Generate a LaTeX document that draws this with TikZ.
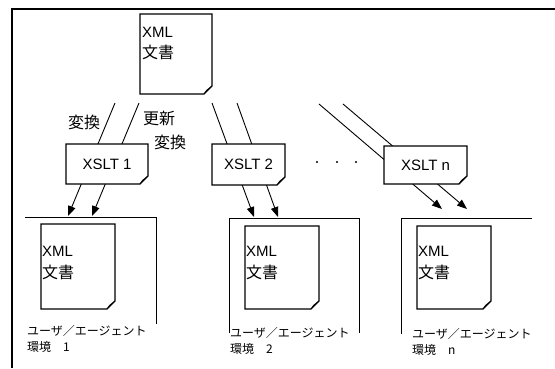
\documentclass[tikz,border=0pt]{standalone}
\usepackage{fontspec}
\setmainfont{Liberation Sans}
\newfontfamily\jp{Noto Sans CJK JP}
\usetikzlibrary{arrows.meta}
\pgfdeclarelayer{lines}
\pgfdeclarelayer{shapes}
\pgfsetlayers{lines,shapes,main}
\tikzset{
  box/.style={draw=none, inner sep=0pt, outer sep=0pt},
  outline/.style={line width=1.1pt, line join=miter, fill=white},
  conn/.style={line width=0.9pt, -{Triangle[length=10pt,width=7.5pt]}},
  envline/.style={line width=0.9pt},
  frameline/.style={line width=2pt},
  lat/.style={font=\fontsize{15}{15}\selectfont, inner sep=0pt},
  jpl/.style={font=\jp\fontsize{16}{16}\selectfont, inner sep=0pt, anchor=west},
  envlbl/.style={font=\jp\fontsize{12}{12}\selectfont, inner sep=0pt, anchor=west},
}
\newcommand\dogear[2]{%
  \begin{pgfonlayer}{shapes}
  \filldraw[outline] (#1.north west) -- (#1.north east) -- ([yshift=#2]#1.south east)
     -- ([xshift=-#2]#1.south east) -- (#1.south west) -- cycle;
  \draw[line width=0.7pt] ([yshift=#2]#1.south east) -- ([xshift=-0.7*#2, yshift=0.45*#2]#1.south east)
     -- ([xshift=-#2]#1.south east);
  \end{pgfonlayer}}
\begin{document}
\begin{tikzpicture}[x=1pt,y=-1pt]
\useasboundingbox (0,0) rectangle (555,368);
% frame
\coordinate (fa) at (12,368);
\coordinate (fb) at (12,9);
\coordinate (fc) at (555,9);
\draw[frameline] (fa) -- (fb) -- (fc);

% source document
\node[box, minimum width=72pt, minimum height=80pt] (d0) at (176,54) {};
\dogear{d0}{8pt}
\node[lat, anchor=west] (d0a) at (142,32) {XML};
\node[jpl] (d0b) at (142,52) {文書};

% XSLT boxes
\node[box, lat, minimum width=82pt, minimum height=40pt] (x1) at (107,164) {XSLT 1};
\dogear{x1}{8pt}
\node[box, lat, minimum width=73pt, minimum height=41pt] (x2) at (248.5,164.5) {XSLT 2};
\dogear{x2}{8pt}
\node[box, lat, minimum width=83pt, minimum height=38pt] (xn) at (425.5,165) {XSLT n};
\dogear{xn}{8pt}

% labels
\node[jpl] (l1) at (68,122) {変換};
\node[jpl] (l2) at (143,118) {更新};
\node[jpl] (l3) at (154,142) {変換};

% dots
\fill (317,162) circle (1.2pt) coordinate (p1);
\fill (337,162) circle (1.2pt) coordinate (p2);
\fill (356,162) circle (1.2pt) coordinate (p3);

% connectors
\coordinate (s1a) at (115,103); \coordinate (e1a) at (68,216);
\coordinate (s1b) at (139,103); \coordinate (e1b) at (92,216);
\coordinate (s2a) at (212,103); \coordinate (e2a) at (254,217);
\coordinate (s2b) at (237,103); \coordinate (e2b) at (278,217);
\coordinate (sna) at (319,104); \coordinate (ena) at (442,209);
\coordinate (snb) at (343,104); \coordinate (enb) at (467,209);
\begin{pgfonlayer}{lines}
\draw[conn] (s1a) -- (e1a);
\draw[conn] (s1b) -- (e1b);
\draw[conn] (s2a) -- (e2a);
\draw[conn] (s2b) -- (e2b);
\draw[conn] (sna) -- (ena);
\draw[conn] (snb) -- (enb);
\end{pgfonlayer}

% environment 1
\coordinate (a1) at (25,217); \coordinate (b1) at (156,217); \coordinate (c1) at (156,324);
\draw[envline] (a1) -- (b1) -- (c1);
\node[box, minimum width=74pt, minimum height=85pt] (d1) at (78,266.5) {};
\dogear{d1}{8pt}
\node[lat, anchor=west] (d1a) at (42,251) {XML};
\node[jpl] (d1b) at (42,272) {文書};
\node[envlbl] (u1) at (27,331) {ユーザ／エージェント};
\node[envlbl] (v1) at (27,347) {環境　1};

% environment 2
\coordinate (a2) at (229,333); \coordinate (b2) at (229,218);
\coordinate (c2) at (359,218); \coordinate (g2) at (359,333);
\draw[envline] (a2) -- (b2) -- (c2) -- (g2);
\node[box, minimum width=74pt, minimum height=83pt] (d2) at (282,267.5) {};
\dogear{d2}{8pt}
\node[lat, anchor=west] (d2a) at (246,251) {XML};
\node[jpl] (d2b) at (246,272) {文書};
\node[envlbl] (u2) at (230,333) {ユーザ／エージェント};
\node[envlbl] (v2) at (230,349) {環境　2};

% environment n
\coordinate (an) at (401,334); \coordinate (bn) at (401,218); \coordinate (cn) at (532,218);
\draw[envline] (an) -- (bn) -- (cn);
\node[box, minimum width=74pt, minimum height=83pt] (dn) at (454,267.5) {};
\dogear{dn}{8pt}
\node[lat, anchor=west] (dna) at (418,251) {XML};
\node[jpl] (dnb) at (418,272) {文書};
\node[envlbl] (un) at (412,334) {ユーザ／エージェント};
\node[envlbl] (vn) at (412,350) {環境　n};
\end{tikzpicture}
\end{document}
